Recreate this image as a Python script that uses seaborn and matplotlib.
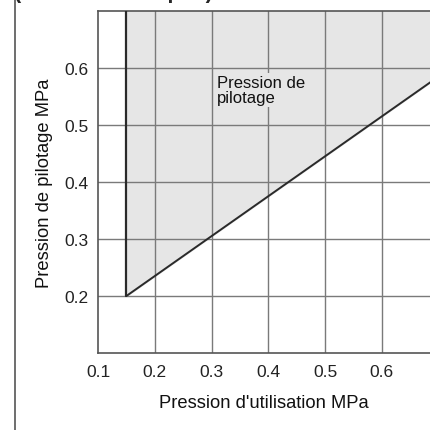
import matplotlib
matplotlib.use("Agg")
import numpy as np
import pandas as pd
import seaborn as sns
import matplotlib.pyplot as plt
from matplotlib.lines import Line2D

# donnees
p_utilisation = [0.15, 0.70]
p_pilotage = [0.20, 0.585]
x_ticks = [0.1, 0.2, 0.3, 0.4, 0.5, 0.6]
y_ticks = [0.2, 0.3, 0.4, 0.5, 0.6]
y_max = 0.70

sns.set_style("white")
plt.rcParams['font.family'] = ['Liberation Sans', 'DejaVu Sans']

fig = plt.figure(figsize=(4.3, 4.31), dpi=100)
ax = fig.add_axes([0.228, 0.1787, 0.772, 0.7935])

df = pd.DataFrame({'x': p_utilisation, 'y': p_pilotage})

# zone grisee au-dessus de la droite
ax.fill_between(p_utilisation, p_pilotage, [y_max, y_max], color='#e6e6e6', zorder=0)

# grille
for xv in x_ticks[1:]:
    ax.axvline(xv, color='#7a7a7a', lw=1.0, zorder=1)
for yv in y_ticks:
    ax.axhline(yv, color='#7a7a7a', lw=1.0, zorder=1)

sns.lineplot(data=df, x='x', y='y', ax=ax, color='#2a2a2a', lw=1.4, zorder=3)
ax.plot([p_utilisation[0], p_utilisation[0]], [p_pilotage[0], y_max], color='#2a2a2a', lw=1.6, zorder=3)

ax.set_xlim(0.1, 0.685)
ax.set_ylim(0.1, y_max)
ax.set_xticks(x_ticks)
ax.set_yticks(y_ticks)
ax.set_xticklabels([f"{v:.1f}" for v in x_ticks], rotation=0)
ax.set_yticklabels([f"{v:.1f}" for v in y_ticks], rotation=0)
ax.tick_params(length=0, labelsize=12.5, colors='#222222')
ax.tick_params(axis='y', pad=7)
ax.tick_params(axis='x', pad=8)

for s in ['left', 'bottom', 'top']:
    ax.spines[s].set_color('#555555')
    ax.spines[s].set_linewidth(1.2)
ax.spines['right'].set_visible(False)

ax.set_xlabel("Pression d'utilisation MPa", fontsize=13.2, labelpad=11, color='#111111')
ax.set_ylabel("Pression de pilotage MPa", fontsize=13.2, labelpad=8, color='#111111')

ax.text(0.31, 0.588, "Pression de\npilotage", fontsize=12, va='top', ha='left',
        color='#111111', linespacing=1.05,
        bbox=dict(facecolor='#e6e6e6', edgecolor='none', pad=1.5), zorder=2)

# bordure gauche et titre coupe
fig.add_artist(Line2D([0.035, 0.035], [0, 1], color='#555555', lw=1.2))
fig.text(0.033, 1.004, "(Domaine d'emploi)", fontsize=15.5, fontweight='bold', va='baseline', ha='left')

fig.savefig("out.png", dpi=100)
